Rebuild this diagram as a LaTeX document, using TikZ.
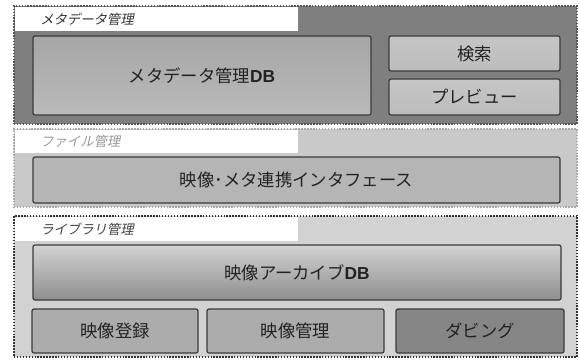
\documentclass[tikz,border=0pt]{standalone}
\usepackage{fontspec}
\setmainfont{Noto Sans CJK JP}
\newfontfamily\jpit[FakeSlant=0.22]{Noto Sans CJK JP}
\newfontfamily\lat{Liberation Sans}
\definecolor{sOneFill}{HTML}{7F7F7F}
\definecolor{sOneLine}{HTML}{555555}
\definecolor{sTwoFill}{HTML}{C9C9C9}
\definecolor{sTwoLine}{HTML}{A8A8A8}
\definecolor{sThreeFill}{HTML}{D2D2D2}
\definecolor{sThreeLine}{HTML}{333333}
\definecolor{boxLine}{HTML}{3A3A3A}
\definecolor{txt}{HTML}{222222}
\tikzset{
  section/.style={draw, line width=1.4pt, dash pattern=on 1.1pt off 1.1pt, inner sep=0, outer sep=0},
  strip/.style={fill=white, draw=none, inner sep=0, outer sep=0},
  title/.style={anchor=west, inner sep=0, font=\jpit\fontsize{10}{12}\selectfont},
  box/.style={draw=boxLine, line width=0.9pt, rounded corners=1.5pt, inner sep=0, outer sep=0, text=txt, font=\fontsize{13}{15}\selectfont},
}
\begin{document}
\begin{tikzpicture}[x=0.75pt, y=-0.75pt]
\useasboundingbox (0,0) rectangle (580,360);
% sections
\node[section, draw=sOneLine, fill=sOneFill, minimum width=422.25pt, minimum height=88.5pt] (s1) at (295.5,65) {};
\node[strip, minimum width=212.25pt, minimum height=18pt, anchor=north west] (t1) at (15,7) {};
\node[title, text=black!80] (tt1) at (40,19) {メタデータ管理};

\node[section, draw=sTwoLine, fill=sTwoFill, minimum width=422.25pt, minimum height=58.5pt] (s2) at (295.5,168) {};
\node[strip, minimum width=212.25pt, minimum height=17.25pt, anchor=north west] (t2) at (15,130) {};
\node[title, text=black!40] (tt2) at (40,141.5) {ファイル管理};

\node[section, draw=sThreeLine, fill=sThreeFill, minimum width=422.25pt, minimum height=105.75pt] (s3) at (295.5,286.5) {};
\node[strip, minimum width=212.25pt, minimum height=18pt, anchor=north west] (t3) at (15,217) {};
\node[title, text=black!75] (tt3) at (40,229) {ライブラリ管理};

% meta boxes
\node[box, top color=gray!70, bottom color=gray!54, minimum width=253.5pt, minimum height=59.25pt] (db) at (202,75.5) {メタデータ管理{\lat\bfseries DB}};
\node[box, top color=gray!45, bottom color=gray!52, minimum width=128.25pt, minimum height=26.25pt] (search) at (474.5,53.5) {検索};
\node[box, top color=gray!45, bottom color=gray!52, minimum width=128.25pt, minimum height=27pt] (preview) at (474.5,97) {プレビュー};

% file box
\node[box, fill=gray!58, minimum width=395.25pt, minimum height=34.5pt] (iface) at (296.5,180) {映像･メタ連携インタフェース};

% library boxes
\node[box, top color=gray!35, bottom color=gray!88, minimum width=396pt, minimum height=41.25pt] (archive) at (297,272.5) {映像アーカイブ{\lat\bfseries DB}};
\node[box, fill=gray!65, minimum width=124.5pt, minimum height=33pt] (reg) at (115,331) {映像登録};
\node[box, fill=gray!65, minimum width=132.75pt, minimum height=33pt] (mgmt) at (295.5,331) {映像管理};
\node[box, fill=gray!95, minimum width=126pt, minimum height=33pt] (dub) at (480,331) {ダビング};
\end{tikzpicture}
\end{document}
